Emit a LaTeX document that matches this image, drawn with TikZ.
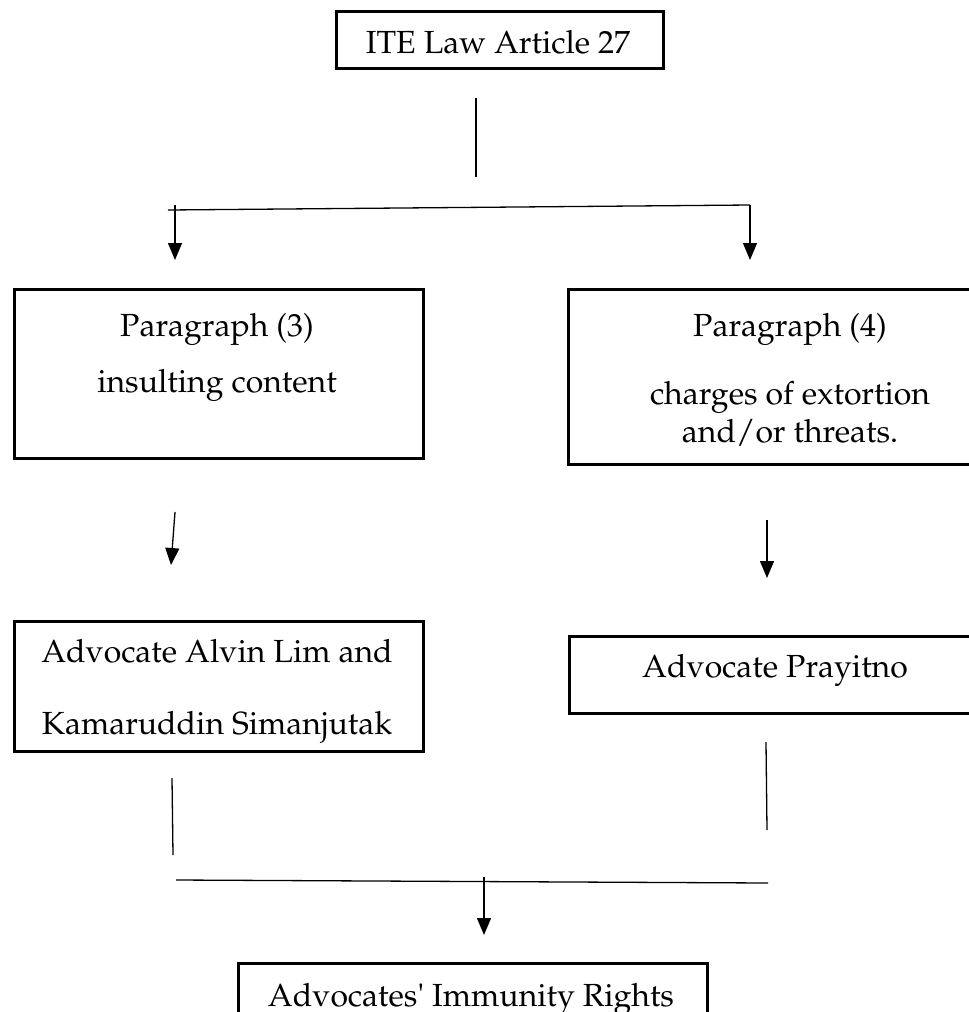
\documentclass[tikz,border=0pt]{standalone}
\usepackage[T1]{fontenc}
\usepackage{mathpazo}
\usetikzlibrary{arrows.meta}

\begin{document}
\begin{tikzpicture}[
        x=1pt, y=-1pt,
        lawbox/.style={draw=black, line width=2.7pt, anchor=north west, inner sep=0pt},
        lawtext/.style={anchor=base, inner sep=0pt, font=\fontsize{32}{38}\selectfont},
        link/.style={line width=1.3pt, draw=black},
        arrow/.style={link, -{Triangle[width=14pt, length=17pt]}}
    ]
        \useasboundingbox (0,0) rectangle (969,1012);
        \clip (0,0) rectangle (969,1012);

        % boxes
        \node[lawbox, minimum width=327pt, minimum height=57pt] (law) at (335,10) {};
        \node[lawbox, minimum width=409pt, minimum height=169pt] (parthree) at (13,288) {};
        \node[lawbox, minimum width=446pt, minimum height=175pt] (parfour) at (567,288) {};
        \node[lawbox, minimum width=409pt, minimum height=130pt] (alvin) at (13,620) {};
        \node[lawbox, minimum width=414pt, minimum height=77pt] (prayitno) at (568,635) {};
        \node[lawbox, minimum width=469pt, minimum height=90pt] (immunity) at (237,962) {};

        % texts
        \node[lawtext] (lawtxt) at (498,53) {ITE Law Article 27};
        \node[lawtext] (parthreea) at (217,336) {Paragraph (3)};
        \node[lawtext] (parthreeb) at (217,392) {insulting content};
        \node[lawtext] (parfoura) at (790,336) {Paragraph (4)};
        \node[lawtext] (parfourb) at (790,404) {charges of extortion};
        \node[lawtext] (parfourc) at (790,442) {and/or threats.};
        \node[lawtext] (alvina) at (217,662) {Advocate Alvin Lim and};
        \node[lawtext] (alvinb) at (217,734) {Kamaruddin Simanjutak};
        \node[lawtext] (prayitnotxt) at (775,677) {Advocate Prayitno};
        \node[lawtext] (immunitytxt) at (471,1006) {Advocates\textquotesingle\ Immunity Rights};

        % connector ends
        \coordinate (lawa) at (476,98);
        \coordinate (lawb) at (476,177);
        \coordinate (splitl) at (168,210);
        \coordinate (splitr) at (750,205);
        \coordinate (topl) at (175,205);
        \coordinate (tipl) at (175,260);
        \coordinate (tipr) at (750,260);
        \coordinate (midl) at (175,512);
        \coordinate (midltip) at (171,565);
        \coordinate (midr) at (767,520);
        \coordinate (midrtip) at (767,578);
        \coordinate (lowla) at (172,778);
        \coordinate (lowlb) at (173,855);
        \coordinate (lowra) at (766,742);
        \coordinate (lowrb) at (767,830);
        \coordinate (joinl) at (176,880);
        \coordinate (joinr) at (768,883);
        \coordinate (down) at (484,877);
        \coordinate (downtip) at (484,935);

        \draw[link] (lawa) -- (lawb);
        \draw[link] (splitl) -- (splitr);
        \draw[arrow] (topl) -- (tipl);
        \draw[arrow] (splitr) -- (tipr);
        \draw[arrow] (midl) -- (midltip);
        \draw[arrow] (midr) -- (midrtip);
        \draw[link] (lowla) -- (lowlb);
        \draw[link] (lowra) -- (lowrb);
        \draw[link] (joinl) -- (joinr);
        \draw[arrow] (down) -- (downtip);
    \end{tikzpicture}
\end{document}
